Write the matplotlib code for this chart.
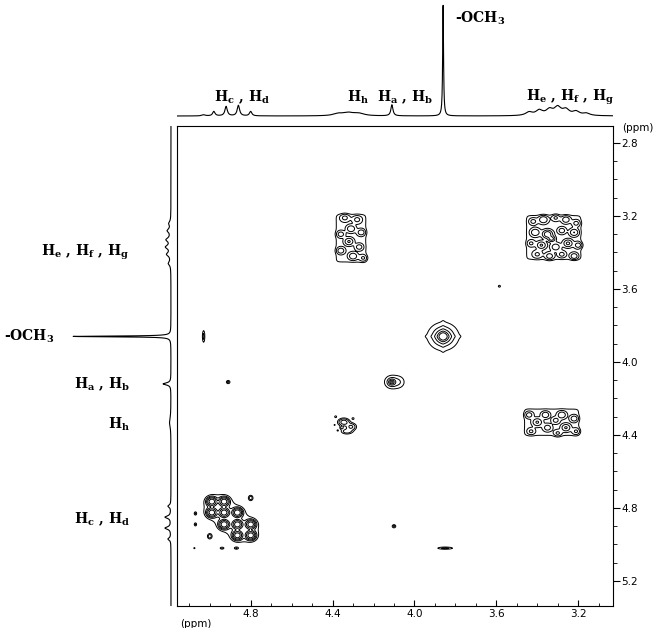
import numpy as np
import matplotlib.pyplot as plt

plt.rcParams['font.family'] = 'DejaVu Sans'

# ---- F2 projection (top): ppm, height, half width ----
f2_ppm = [5.03, 4.98, 4.92, 4.86, 4.80, 4.37, 4.32, 4.27, 4.11, 3.86, 3.44, 3.39, 3.34, 3.30, 3.26, 3.21, 3.16]
f2_h   = [0.01, 0.04, 0.085, 0.095, 0.04, 0.02, 0.025, 0.02, 0.10, 1.0, 0.03, 0.045, 0.05, 0.07, 0.05, 0.035, 0.02]
f2_w   = [0.01, 0.007, 0.007, 0.007, 0.007, 0.03, 0.03, 0.03, 0.006, 0.0025, 0.02, 0.02, 0.02, 0.02, 0.02, 0.02, 0.02]

# ---- F1 projection (left) ----
f1_ppm = [4.97, 4.91, 4.85, 4.79, 4.33, 4.12, 3.86, 3.46, 3.41, 3.37, 3.33, 3.28, 3.24]
f1_h   = [0.03, 0.06, 0.06, 0.03, 0.015, 0.08, 1.0, 0.025, 0.04, 0.05, 0.045, 0.035, 0.02]
f1_w   = [0.008, 0.008, 0.008, 0.008, 0.03, 0.007, 0.0025, 0.012, 0.012, 0.012, 0.012, 0.012, 0.012]

# ---- 2D peaks ----
# sharp diagonal peaks, lorentzian (x, y, amp, w)
sharp_peaks = [(3.86, 3.86, 20.0, 0.0045),
               (4.11, 4.11, 2.0, 0.0068)]
# cross-shaped feet of OCH3 (x, y, amp, w)
och3_feet = [(3.86, 3.86, 1.5, 0.009)]
# Hc,Hd diagonal multiplet (gaussian rings)
hcd_f2 = [4.99, 4.93, 4.865, 4.80]
hcd_f1 = [4.765, 4.825, 4.89, 4.95]
hcd_amp = [[2.0, 2.0, 0.0, 0.0],
           [2.0, 2.0, 2.2, 0.0],
           [0.0, 2.2, 2.0, 2.0],
           [0.0, 0.0, 2.0, 2.0]]
# small gaussian peaks (x, y, amp, wx, wy)
small_peaks = [(4.80, 4.745, 0.25, 0.007, 0.009),
               (5.00, 4.955, 0.25, 0.007, 0.009),
               (5.07, 4.83, 0.18, 0.004, 0.006),
               (5.07, 4.89, 0.18, 0.004, 0.006),
               (5.075, 5.02, 0.12, 0.003, 0.003),
               (4.94, 5.02, 0.16, 0.007, 0.004),
               (4.87, 5.02, 0.16, 0.007, 0.004),
               (4.10, 4.90, 0.20, 0.006, 0.006),
               (4.91, 4.11, 0.20, 0.006, 0.006),
               (3.85, 5.02, 0.20, 0.025, 0.004),
               (5.03, 3.86, 0.20, 0.004, 0.022),
               (3.585, 3.585, 0.15, 0.004, 0.004),
               (4.075, 4.11, 0.10, 0.018, 0.02),
               # Hh diagonal
               (4.345, 4.33, 0.45, 0.016, 0.012),
               (4.31, 4.355, 0.35, 0.015, 0.012),
               (4.33, 4.38, 0.25, 0.017, 0.009),
               (4.355, 4.36, 0.20, 0.006, 0.006),
               (4.385, 4.30, 0.14, 0.004, 0.004),
               (4.30, 4.31, 0.14, 0.004, 0.004),
               (4.375, 4.375, 0.12, 0.003, 0.003),
               (4.39, 4.345, 0.10, 0.003, 0.003)]

# broad bases of the He,Hf,Hg blobs (x0, x1, y0, y1)
blob_boxes = [(3.455, 3.185, 3.195, 3.44),
              (3.465, 3.195, 4.255, 4.405),
              (4.385, 4.235, 3.190, 3.455)]
# texture inside the blobs (x, y, amp, w)
blob_texture = [(3.42, 3.23, 0.30, 0.012), (3.37, 3.22, 0.45, 0.014), (3.31, 3.21, 0.25, 0.012),
                (3.26, 3.22, 0.40, 0.013), (3.21, 3.24, 0.30, 0.012), (3.41, 3.29, 0.45, 0.014),
                (3.35, 3.30, 0.90, 0.014), (3.33, 3.325, 0.70, 0.010), (3.28, 3.28, 0.35, 0.012),
                (3.22, 3.29, 0.50, 0.013), (3.43, 3.35, 0.25, 0.012), (3.38, 3.36, 0.55, 0.013),
                (3.31, 3.37, 0.40, 0.014), (3.25, 3.35, 0.60, 0.013), (3.20, 3.36, 0.35, 0.012),
                (3.40, 3.41, 0.25, 0.014), (3.34, 3.42, 0.35, 0.013), (3.28, 3.41, 0.30, 0.012),
                (3.22, 3.42, 0.40, 0.012),
                (3.44, 4.29, 0.35, 0.012), (3.40, 4.33, 0.55, 0.014), (3.36, 4.29, 0.45, 0.012),
                (3.35, 4.36, 0.35, 0.013), (3.31, 4.32, 0.30, 0.012), (3.28, 4.29, 0.45, 0.013),
                (3.26, 4.36, 0.55, 0.013), (3.22, 4.31, 0.40, 0.012), (3.21, 4.38, 0.25, 0.012),
                (3.43, 4.38, 0.25, 0.012), (3.30, 4.39, 0.25, 0.012),
                (4.34, 3.21, 0.28, 0.014), (4.28, 3.22, 0.28, 0.014), (4.31, 3.27, 0.45, 0.013),
                (4.36, 3.30, 0.35, 0.012), (4.26, 3.29, 0.40, 0.012), (4.32, 3.34, 0.55, 0.013),
                (4.27, 3.37, 0.35, 0.012), (4.36, 3.39, 0.40, 0.012), (4.30, 3.42, 0.45, 0.013),
                (4.25, 3.43, 0.25, 0.012)]

levels = [0.07, 0.15, 0.3, 0.6, 1.2]

xlim = (5.16, 3.03)
ylim = (5.337, 2.707)

xs = np.linspace(xlim[1], xlim[0], 800)
ys = np.linspace(ylim[1], ylim[0], 900)
X, Y = np.meshgrid(xs, ys)
Z = np.zeros_like(X)


def gauss(x0, y0, a, wx, wy):
    return a * np.exp(-((X - x0) ** 2) / (2 * wx ** 2) - ((Y - y0) ** 2) / (2 * wy ** 2))


def step(v, edge, sign):
    return 1 / (1 + np.exp(-sign * (v - edge) / 0.006))


for x0, y0, a, w in sharp_peaks:
    Z += a / (1 + ((X - x0) / w) ** 2 + ((Y - y0) / w) ** 2)
for x0, y0, a, w in och3_feet:
    Z += a / ((1 + ((X - x0) / w) ** 2) * (1 + ((Y - y0) / w) ** 2))
for j, y0 in enumerate(hcd_f1):
    for i, x0 in enumerate(hcd_f2):
        if hcd_amp[j][i] > 0:
            Z += gauss(x0, y0, hcd_amp[j][i], 0.012, 0.012)
            Z += gauss(x0, y0, 0.075, 0.037, 0.037)
for p in small_peaks:
    Z += gauss(*p)
for x0, x1, y0, y1 in blob_boxes:
    Z += 0.11 * step(X, min(x0, x1), 1) * step(X, max(x0, x1), -1) * step(Y, y0, 1) * step(Y, y1, -1)
for x0, y0, a, w in blob_texture:
    Z += gauss(x0, y0, a, w, w * 0.92)

fig = plt.figure(figsize=(6.57, 6.28), dpi=100)
ax = fig.add_axes([177 / 657, 22 / 628, 436 / 657, 480 / 628])
ax_top = fig.add_axes([177 / 657, 508 / 628, 436 / 657, 120 / 628], sharex=ax)
ax_left = fig.add_axes([0, 22 / 628, 175 / 657, 480 / 628], sharey=ax)

ax.contour(X, Y, Z, levels=levels, colors='black', linewidths=0.7)
ax.set_xlim(*xlim)
ax.set_ylim(*ylim)
ax.set_xticks([4.8, 4.4, 4.0, 3.6, 3.2])
ax.set_xticks(np.arange(3.1, 5.15, 0.1), minor=True)
ax.set_yticks([2.8, 3.2, 3.6, 4.0, 4.4, 4.8, 5.2])
ax.set_yticks(np.arange(2.8, 5.3, 0.1), minor=True)
ax.xaxis.set_major_formatter(plt.FormatStrFormatter('%.1f'))
ax.yaxis.set_major_formatter(plt.FormatStrFormatter('%.1f'))
ax.yaxis.tick_right()
ax.tick_params(axis='x', which='major', direction='in', length=4, labelsize=7.5, pad=2)
ax.tick_params(axis='x', which='minor', direction='in', length=2.5)
ax.tick_params(axis='y', which='major', direction='out', length=5, labelsize=7.5, pad=1)
ax.tick_params(axis='y', which='minor', direction='out', length=3)
fig.text(180 / 657, 1 - 624 / 628, '(ppm)', fontsize=7.5, ha='left', va='center')
fig.text(622 / 657, 1 - 128 / 628, '(ppm)', fontsize=7.5, ha='left', va='center')

# projections
grid1 = np.linspace(xlim[1], xlim[0], 4000)
spec = np.zeros_like(grid1)
for p, h, w in zip(f2_ppm, f2_h, f2_w):
    spec += h * w ** 2 / ((grid1 - p) ** 2 + w ** 2)
ax_top.plot(grid1, spec, color='black', lw=0.8)
ax_top.set_ylim(-0.036, 1.045)
ax_top.axis('off')

grid2 = np.linspace(ylim[1], ylim[0], 4000)
spec2 = np.zeros_like(grid2)
for p, h, w in zip(f1_ppm, f1_h, f1_w):
    spec2 += h * w ** 2 / ((grid2 - p) ** 2 + w ** 2)
ax_left.plot(spec2, grid2, color='black', lw=0.8)
ax_left.set_xlim(1.745, -0.041)
ax_left.axis('off')

lab = dict(family='DejaVu Serif', fontsize=10, fontweight='bold')
ax_top.text(4.845, 0.17, r'H$_\mathregular{c}$ , H$_\mathregular{d}$', ha='center', va='center', **lab)
ax_top.text(4.275, 0.17, r'H$_\mathregular{h}$', ha='center', va='center', **lab)
ax_top.text(4.045, 0.17, r'H$_\mathregular{a}$ , H$_\mathregular{b}$', ha='center', va='center', **lab)
ax_top.text(3.24, 0.17, r'H$_\mathregular{e}$ , H$_\mathregular{f}$ , H$_\mathregular{g}$', ha='center', va='center', **lab)
ax_top.text(3.80, 0.88, r'-OCH$_\mathregular{3}$', ha='left', va='center', **lab)

ax_left.text(0.42, 3.40, r'H$_\mathregular{e}$ , H$_\mathregular{f}$ , H$_\mathregular{g}$', ha='right', va='center', **lab)
ax_left.text(1.70, 3.86, r'-OCH$_\mathregular{3}$', ha='left', va='center', **lab)
ax_left.text(0.42, 4.12, r'H$_\mathregular{a}$ , H$_\mathregular{b}$', ha='right', va='center', **lab)
ax_left.text(0.42, 4.34, r'H$_\mathregular{h}$', ha='right', va='center', **lab)
ax_left.text(0.42, 4.86, r'H$_\mathregular{c}$ , H$_\mathregular{d}$', ha='right', va='center', **lab)

fig.savefig('out.png', dpi=100)
